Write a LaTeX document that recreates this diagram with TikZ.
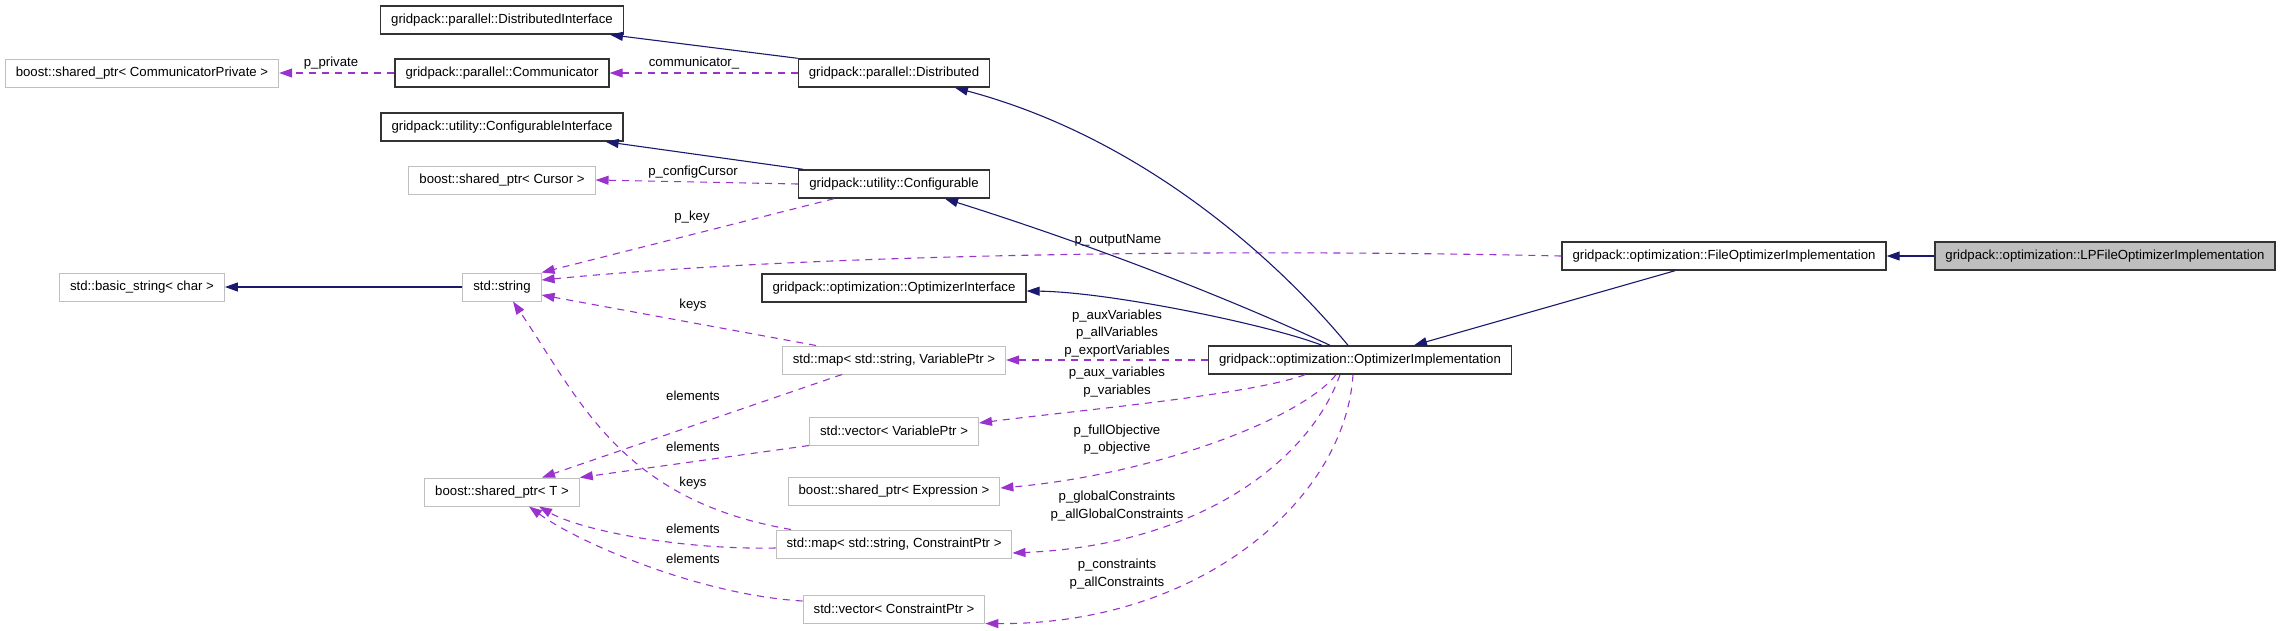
\documentclass[tikz,border=0pt]{standalone}
\usepackage{fontspec}
\setmainfont{Liberation Sans}
\usetikzlibrary{arrows.meta}
\definecolor{inhblue}{HTML}{191970}
\definecolor{usepurple}{HTML}{9A32CD}
\definecolor{extgray}{HTML}{BFBFBF}
\begin{document}
\begin{tikzpicture}[x=1pt,y=-1pt,
    every node/.style={font=\fontsize{13.2}{17.5}\selectfont},
    cls/.style={draw=black!80, line width=1.4pt, fill=white, minimum height=28pt, inner xsep=10.5pt, inner ysep=0pt},
    ext/.style={cls, draw=extgray, line width=1pt},
    cur/.style={cls, fill=extgray},
    inh/.style={draw=inhblue, line width=1.1pt, -{Triangle[length=13pt,width=9pt]}},
    use/.style={draw=usepurple, line width=1.1pt, dash pattern=on 7pt off 6pt, -{Triangle[length=13pt,width=9pt]}},
    lbl/.style={align=center, inner sep=0pt}]
    \useasboundingbox (0,0) rectangle (2280,630);
                \node[ext] (cpriv) at (142,73) {boost::shared\_ptr< CommunicatorPrivate >};
                \node[cls] (distIface) at (502,20) {gridpack::parallel::DistributedInterface};
                \node[cls] (comm) at (502,73) {gridpack::parallel::Communicator};
                \node[cls] (distr) at (894,73) {gridpack::parallel::Distributed};
                \node[cls] (confIface) at (502,127) {gridpack::utility::ConfigurableInterface};
                \node[ext] (cursor) at (502,180) {boost::shared\_ptr< Cursor >};
                \node[cls] (conf) at (894,184) {gridpack::utility::Configurable};
                \node[ext] (bstring) at (142,287) {std::basic\_string< char >};
                \node[ext] (string) at (502,287) {std::string};
                \node[cls] (optIface) at (894,288) {gridpack::optimization::OptimizerInterface};
                \node[ext] (varMap) at (894,360) {std::map< std::string, VariablePtr >};
                \node[cls] (optImpl) at (1360,360) {gridpack::optimization::OptimizerImplementation};
                \node[cls] (fileOpt) at (1724,256) {gridpack::optimization::FileOptimizerImplementation};
                \node[cur] (lpFile) at (2105,256) {gridpack::optimization::LPFileOptimizerImplementation};
                \node[ext] (varVec) at (894,431) {std::vector< VariablePtr >};
                \node[ext] (sptrT) at (502,492) {boost::shared\_ptr< T >};
                \node[ext] (expr) at (894,491) {boost::shared\_ptr< Expression >};
                \node[ext] (conMap) at (894,544) {std::map< std::string, ConstraintPtr >};
                \node[ext] (conVec) at (894,609) {std::vector< ConstraintPtr >};

                \draw[inh] (distr.north west) -- ([xshift=-14pt]distIface.south east);
                \draw[use] (distr) -- (comm) node[lbl] at (694,63) {communicator\_};
                \draw[use] (comm) -- (cpriv) node[lbl] at (331,63) {p\_private};
                \draw[inh] ([xshift=5pt]conf.north west) -- ([xshift=-18pt]confIface.south east);
                \draw[use] (conf.west) -- (cursor.east) node[lbl] at (693,172) {p\_configCursor};
                \draw[use] ([xshift=36pt]conf.south west) -- (string.north east) node[lbl] at (692,217) {p\_key};
                \draw[use] (fileOpt.west) .. controls (1200,248) and (800,255) .. ([yshift=7pt]string.east)
                    node[lbl] at (1118,240) {p\_outputName};
                \draw[inh] (string) -- (bstring);
                \draw[inh] ([xshift=-12pt]optImpl.north) .. controls (1290,275) and (1155,141) .. ([xshift=61pt]distr.south);
                \draw[inh] ([xshift=-30pt]optImpl.north) .. controls (1200,285) and (1060,235) .. ([xshift=51pt]conf.south);
                \draw[inh] ([xshift=-38pt]optImpl.north) .. controls (1270,325) and (1110,292) .. ([yshift=-3pt]optIface.east);
                \draw[inh] ([xshift=-49pt]fileOpt.south) -- ([xshift=54pt]optImpl.north);
                \draw[inh] (lpFile) -- (fileOpt);
                \draw[use] (optImpl) -- (varMap)
                    node[lbl] at (1117,333.5) {p\_auxVariables\\p\_allVariables\\p\_exportVariables};
                \draw[use] ([xshift=-55pt]optImpl.south) .. controls (1250,395) and (1080,410) .. ([yshift=8pt]varVec.east)
                    node[lbl] at (1117,382) {p\_aux\_variables\\p\_variables};
                \draw[use] ([xshift=-24pt]optImpl.south) .. controls (1300,420) and (1150,475) .. ([yshift=3pt]expr.east)
                    node[lbl] at (1117,439.5) {p\_fullObjective\\p\_objective};
                \draw[use] ([xshift=-20pt]optImpl.south) .. controls (1310,460) and (1200,545) .. ([yshift=-9pt]conMap.east)
                    node[lbl] at (1117,506) {p\_globalConstraints\\p\_allGlobalConstraints};
                \draw[use] ([xshift=-7pt]optImpl.south) .. controls (1345,500) and (1200,625) .. (conVec.south east)
                    node[lbl] at (1117,574) {p\_constraints\\p\_allConstraints};
                \draw[use] ([xshift=-78pt]varMap.north) -- ([yshift=-8pt]string.east) node[lbl] at (693,305) {keys};
                \draw[use] ([xshift=-52pt]varMap.south) -- ([xshift=40pt]sptrT.north) node[lbl] at (693,396) {elements};
                \draw[use] (varVec.south west) -- (sptrT.north east) node[lbl] at (693,447) {elements};
                \draw[use] ([xshift=-103pt]conMap.north) .. controls (620,500) and (580,400) .. ([xshift=11pt]string.south)
                    node[lbl] at (693,483) {keys};
                \draw[use] ([yshift=-4pt]conMap.west) .. controls (680,550) and (580,530) .. ([xshift=37pt]sptrT.south)
                    node[lbl] at (693,529) {elements};
                \draw[use] ([yshift=8pt]conVec.west) .. controls (700,595) and (579,543) .. ([xshift=27pt]sptrT.south)
                    node[lbl] at (693,559) {elements};
            \end{tikzpicture}
\end{document}
